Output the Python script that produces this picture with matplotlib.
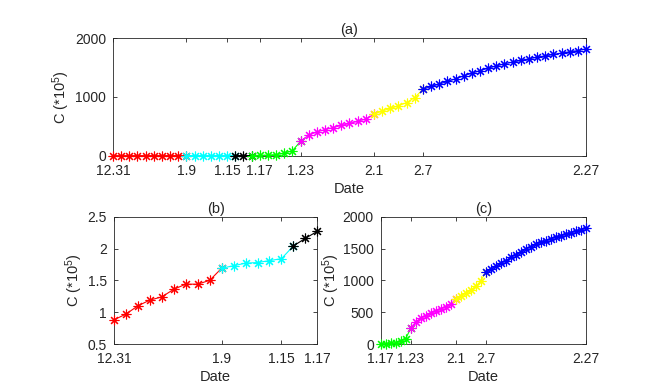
import matplotlib
matplotlib.use("Agg")
import matplotlib.pyplot as plt

plt.rcParams['font.family'] = ['Liberation Sans', 'DejaVu Sans']
plt.rcParams['mathtext.default'] = 'regular'

# Daily cumulative values, index 0 = 12.31 ... index 58 = 2.27
values = [0.88, 0.97, 1.10, 1.19, 1.24, 1.36, 1.44, 1.44, 1.50,        # red
          1.69, 1.73, 1.77, 1.78, 1.81, 1.84,                           # cyan
          2.04, 2.16,                                                   # black
          2.27, 5, 9, 20, 40, 85,                                       # green
          245, 350, 405, 445, 480, 515, 550, 585, 625,                  # magenta
          705, 760, 805, 850, 905, 990,                                 # yellow
          1130, 1180, 1220, 1265, 1310, 1360, 1405, 1450, 1490, 1530,   # blue
          1565, 1595, 1622, 1650, 1678, 1700, 1725, 1748, 1770, 1790, 1820]

# colour segments: (start index, end index, colour)
seg_starts = [0, 9, 15, 17, 23, 32, 38]
seg_ends = [9, 15, 17, 23, 32, 38, 58]
seg_colors = ['#ff0000', '#00ffff', '#000000', '#00ff00', '#ff00ff', '#ffff00', '#0000ff']

ticks_a = [0, 9, 14, 18, 23, 32, 38, 58]
labels_a = ['12.31', '1.9', '1.15', '1.17', '1.23', '2.1', '2.7', '2.27']
ticks_b = [0, 9, 14, 17]
labels_b = ['12.31', '1.9', '1.15', '1.17']
ticks_c = [17, 23, 32, 38, 58]
labels_c = ['1.17', '1.23', '2.1', '2.7', '2.27']

fig = plt.figure(figsize=(6.55, 3.91), dpi=100)
W, H = 655, 391

def add_ax(l, r, t, b):
    return fig.add_axes([l / W, 1 - b / H, (r - l) / W, (b - t) / H])

ax_a = add_ax(113, 586, 38.3, 155.7)
ax_b = add_ax(114, 317.3, 216.7, 344)
ax_c = add_ax(380.7, 585.7, 216.7, 344)

tc = '#262626'
fs = 10
marker = (8, 2, 0)

def draw(ax, lo, hi):
    for s, e, c in zip(seg_starts, seg_ends, seg_colors):
        if s >= hi or e <= lo:
            continue
        a = max(s, lo)
        b = min(e, hi)
        xs = list(range(a, b + 1))
        ys = values[a:b + 1]
        ax.plot(xs, ys, color=c, lw=0.8, marker=marker, ms=7, mew=0.8,
                clip_on=False, zorder=3)

def style(ax, ticks, labels, xlim, ylim, yticks, title, ylab_x):
    ax.set_xlim(*xlim)
    ax.set_ylim(*ylim)
    ax.set_xticks(ticks)
    ax.set_xticklabels(labels)
    ax.set_yticks(yticks)
    ax.tick_params(direction='in', top=True, right=True, length=3, width=0.6,
                   colors=tc, labelsize=fs)
    ax.tick_params(axis='x', pad=5.8)
    ax.tick_params(axis='y', pad=5)
    for sp in ax.spines.values():
        sp.set_linewidth(0.6)
        sp.set_color(tc)
    ax.set_xlabel('Date', fontsize=fs + 0.5, color=tc, labelpad=3)
    ax.set_title(title, fontsize=fs + 0.5, color=tc, pad=3)
    ax.set_ylabel('C (*10$^{5}$)', fontsize=fs + 0.5, color=tc)
    ax.yaxis.set_label_coords(ylab_x, 0.5)

draw(ax_a, 0, 58)
style(ax_a, ticks_a, labels_a, (0, 58), (0, 2000), [0, 1000, 2000], '(a)', -0.087)

draw(ax_b, 0, 17)
style(ax_b, ticks_b, labels_b, (0, 17), (0.5, 2.5), [0.5, 1, 1.5, 2, 2.5], '(b)', -0.143)
ax_b.set_yticklabels(['0.5', '1', '1.5', '2', '2.5'])

draw(ax_c, 17, 58)
style(ax_c, ticks_c, labels_c, (17, 58), (0, 2000), [0, 500, 1000, 1500, 2000], '(c)', -0.188)

fig.savefig('out.png', dpi=100)
